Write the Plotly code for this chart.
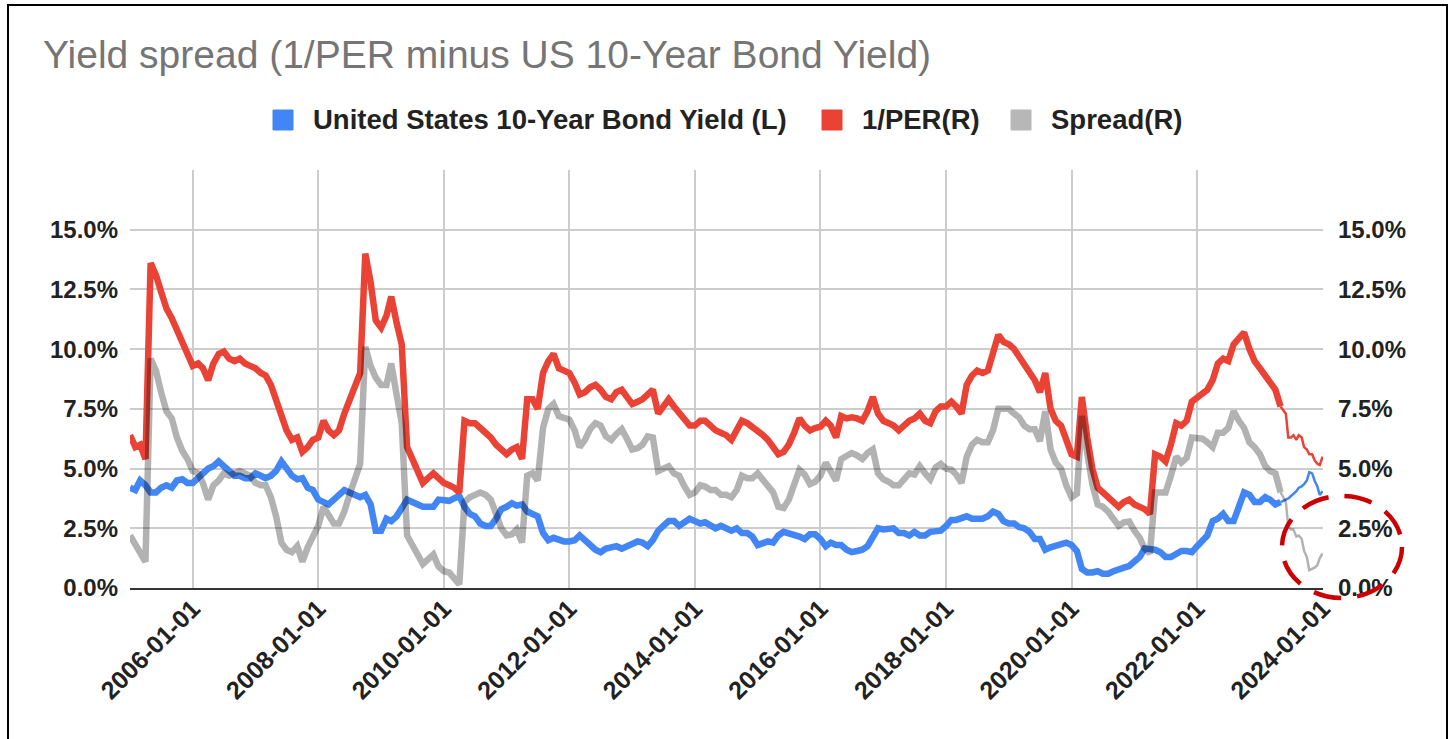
import pandas as pd
import plotly.graph_objects as go

# ---------------------------------------------------------------- data
# monthly readings (start of month), 2005-01 .. 2023-05
months = pd.date_range('2005-01-01', '2023-05-01', freq='MS')

per_monthly = [
    6.4, 5.9, 6.0, 5.4, 13.6, 13.1, 12.4, 11.7, 11.3, 10.8, 10.3, 9.8,     # 2005
    9.3, 9.4, 9.2, 8.7, 9.4, 9.8, 9.9, 9.6, 9.5, 9.6, 9.4, 9.3,            # 2006
    9.2, 9.0, 8.9, 8.5, 7.9, 7.2, 6.6, 6.2, 6.3, 5.7, 5.9, 6.2,            # 2007
    6.3, 7.0, 6.6, 6.4, 6.6, 7.3, 7.9, 8.4, 9.0, 14.0, 12.8, 11.2,         # 2008
    10.9, 11.4, 12.2, 11.1, 10.2, 5.9, 5.4, 4.8, 4.4, 4.6, 4.8, 4.6,       # 2009
    4.4, 4.3, 4.2, 4.0, 7.0, 6.9, 6.9, 6.7, 6.5, 6.3, 6.0, 5.8,            # 2010
    5.6, 5.8, 5.9, 5.4, 7.9, 7.9, 7.5, 9.0, 9.5, 9.8, 9.2, 9.1,            # 2011
    9.0, 8.6, 8.1, 8.2, 8.4, 8.5, 8.3, 8.0, 7.9, 8.2, 8.3, 8.0,            # 2012
    7.7, 7.8, 7.9, 8.1, 8.3, 7.3, 7.6, 7.9, 7.6, 7.3, 7.0, 6.8,            # 2013
    6.8, 7.0, 7.0, 6.75, 6.6, 6.5, 6.4, 6.2, 6.6, 7.0, 6.9, 6.75,          # 2014
    6.6, 6.4, 6.2, 5.9, 5.6, 5.7, 6.0, 6.5, 7.1, 6.8, 6.6, 6.7,            # 2015
    6.75, 7.0, 6.8, 6.3, 7.2, 7.1, 7.15, 7.1, 7.0, 7.4, 8.0, 7.3,          # 2016
    7.0, 6.9, 6.8, 6.6, 6.8, 7.0, 7.1, 7.3, 7.0, 6.9, 7.4, 7.6,            # 2017
    7.6, 7.8, 7.6, 7.3, 8.5, 8.9, 9.1, 9.0, 9.1, 9.8, 10.6, 10.3,          # 2018
    10.2, 10.0, 9.7, 9.3, 9.0, 8.7, 8.2, 9.0, 7.5, 7.0, 6.8, 6.2,          # 2019
    5.6, 5.5, 8.0, 6.3, 5.0, 4.2, 4.0, 3.8, 3.6, 3.4, 3.6, 3.7,            # 2020
    3.5, 3.4, 3.3, 3.1, 5.6, 5.5, 5.3, 6.0, 6.9, 6.8, 7.0, 7.8,            # 2021
    8.0, 8.2, 8.3, 8.7, 9.4, 9.6, 9.5, 10.2, 10.5, 10.7, 10.0, 9.5,        # 2022
    9.2, 8.9, 8.6, 8.3, 7.6,                                               # 2023
]

yield_monthly = [
    4.2, 4.1, 4.5, 4.3, 4.0, 4.0, 4.2, 4.3, 4.2, 4.5, 4.55, 4.4,           # 2005
    4.4, 4.6, 4.8, 5.0, 5.1, 5.3, 5.1, 4.9, 4.7, 4.7, 4.6, 4.6,            # 2006
    4.8, 4.7, 4.6, 4.7, 4.9, 5.3, 5.0, 4.7, 4.55, 4.6, 4.2, 4.1,           # 2007
    3.7, 3.6, 3.5, 3.7, 3.9, 4.1, 4.0, 3.9, 3.8, 3.9, 3.5, 2.4,            # 2008
    2.4, 2.9, 2.8, 3.0, 3.3, 3.7, 3.6, 3.5, 3.4, 3.4, 3.4, 3.7,            # 2009
    3.7, 3.65, 3.75, 3.85, 3.4, 3.1, 3.0, 2.7, 2.6, 2.6, 2.9, 3.3,         # 2010
    3.4, 3.55, 3.45, 3.5, 3.2, 3.1, 3.0, 2.3, 2.0, 2.1, 2.0, 1.95,         # 2011
    1.95, 2.0, 2.2, 2.0, 1.75, 1.6, 1.5, 1.65, 1.7, 1.75, 1.65, 1.75,      # 2012
    1.9, 1.95, 1.9, 1.75, 2.0, 2.4, 2.6, 2.8, 2.8, 2.6, 2.75, 2.9,         # 2013
    2.8, 2.7, 2.75, 2.65, 2.5, 2.6, 2.5, 2.4, 2.5, 2.3, 2.3, 2.15,         # 2014
    1.8, 1.9, 1.95, 1.9, 2.2, 2.35, 2.3, 2.2, 2.15, 2.05, 2.25, 2.25,      # 2015
    2.05, 1.75, 1.9, 1.8, 1.8, 1.6, 1.5, 1.55, 1.6, 1.75, 2.2, 2.5,        # 2016
    2.45, 2.45, 2.5, 2.3, 2.3, 2.2, 2.35, 2.2, 2.2, 2.35, 2.35, 2.4,       # 2017
    2.6, 2.85, 2.85, 2.9, 3.0, 2.9, 2.9, 2.9, 3.0, 3.2, 3.1, 2.8,          # 2018
    2.7, 2.7, 2.55, 2.5, 2.35, 2.05, 2.05, 1.6, 1.7, 1.75, 1.8, 1.9,       # 2019
    1.8, 1.55, 0.8, 0.65, 0.65, 0.7, 0.6, 0.6, 0.7, 0.8, 0.85, 0.92,       # 2020
    1.1, 1.3, 1.65, 1.65, 1.6, 1.5, 1.3, 1.3, 1.4, 1.55, 1.55, 1.5,        # 2021
    1.75, 1.95, 2.2, 2.8, 2.9, 3.1, 2.8, 2.8, 3.5, 4.0, 3.9, 3.6,          # 2022
    3.6, 3.8, 3.7, 3.5, 3.6,                                               # 2023
]

# sparse readings at the end of the series
tail_dates = ['2023-06-01', '2023-06-15', '2023-07-01', '2023-07-15', '2023-08-01',
              '2023-08-15', '2023-09-01', '2023-09-15', '2023-10-01', '2023-10-15',
              '2023-11-01', '2023-11-15', '2023-12-01', '2023-12-15', '2024-01-01']
per_tail = [7.3, 6.3, 6.3, 6.4, 6.2, 6.4, 6.3, 5.9, 5.8, 5.6, 5.6, 5.35, 5.2, 5.15, 5.5]
yield_tail = [3.7, 3.75, 3.85, 3.95, 4.05, 4.2, 4.25, 4.35, 4.5, 4.85, 4.8, 4.5, 4.25, 3.9, 4.05]

# spread = 1/PER minus bond yield
spread_monthly = [round(p - y, 2) for p, y in zip(per_monthly, yield_monthly)]
spread_tail = [round(p - y, 2) for p, y in zip(per_tail, yield_tail)]

y_ticks = [0, 2.5, 5, 7.5, 10, 12.5, 15]
y_labels = ['%.1f%%' % v for v in y_ticks]

names = ['United States 10-Year Bond Yield (L)', '1/PER(R)', 'Spread(R)']

# ---------------------------------------------------------------- style
c_blue = '#4285F4'
c_red = '#EA4335'
c_gray = 'rgba(0,0,0,0.30)'
c_gray_key = '#B7B7B7'
c_grid = '#CCCCCC'
c_text = '#222222'
font_fam = 'Arial, Liberation Sans, sans-serif'

fig = go.Figure()

tail_x = [months[-1]] + list(pd.to_datetime(tail_dates))

series = [
    (yield_monthly, yield_tail, c_blue, 'y'),
    (per_monthly, per_tail, c_red, 'y2'),
    (spread_monthly, spread_tail, c_gray, 'y2'),
]
for dense, tail, col, ax in series:
    fig.add_trace(go.Scatter(x=months, y=dense, mode='lines', yaxis=ax,
                             line=dict(color=col, width=6.5), showlegend=False,
                             hoverinfo='skip'))
    fig.add_trace(go.Scatter(x=tail_x, y=[dense[-1]] + tail, mode='lines', yaxis=ax,
                             line=dict(color=col, width=2.5), showlegend=False,
                             hoverinfo='skip'))

# ---------------------------------------------------------------- layout
W, H = 1455, 739
ml, mr, mt, mb = 130, 132, 170, 151

xfont = dict(family=font_fam, size=25, color=c_text, weight='bold')
yfont = dict(family=font_fam, size=24, color=c_text, weight='bold')

fig.update_layout(
    width=W, height=H,
    margin=dict(l=ml, r=mr, t=mt, b=mb, autoexpand=False),
    paper_bgcolor='white', plot_bgcolor='white',
    showlegend=False,
    title=dict(text='Yield spread (1/PER minus US 10-Year Bond Yield)',
               font=dict(family=font_fam, size=39, color='#757575'),
               xref='container', yref='container',
               x=43 / W, xanchor='left', y=1 - 54 / H, yanchor='middle'),
    xaxis=dict(type='date', range=['2005-01-01', '2024-01-03'], automargin=False,
               tick0='2006-01-01', dtick='M24', tickformat='%Y-%m-%d',
               tickangle=-45, ticks='', tickfont=xfont, ticklabelstandoff=-6,
               showgrid=True, gridcolor=c_grid, gridwidth=1.5,
               showline=True, linecolor='#333333', linewidth=2,
               zeroline=False),
    yaxis=dict(range=[0, 17.5], tickvals=y_ticks, ticktext=y_labels, ticks='',
               automargin=False, tickfont=yfont, ticklabelstandoff=11,
               showgrid=True, gridcolor=c_grid, gridwidth=1.5, zeroline=False),
    yaxis2=dict(range=[0, 17.5], tickvals=y_ticks, ticktext=y_labels, ticks='',
                overlaying='y', side='right', automargin=False,
                tickfont=yfont, ticklabelstandoff=14,
                showgrid=False, zeroline=False),
)

# pixel -> paper helpers for the decorations
pw = W - ml - mr
ph = H - mt - mb


def px_x(v):
    return (v - ml) / pw


def px_y(v):
    return (H - mb - v) / ph


# legend: square swatch + bold label
key_left = [273, 822, 1011]
for nm, col, kx in zip(names, [c_blue, c_red, c_gray_key], key_left):
    fig.add_shape(type='rect', xref='paper', yref='paper',
                  x0=px_x(kx), x1=px_x(kx + 20), y0=px_y(130), y1=px_y(110),
                  line=dict(color=col, width=1), fillcolor=col)
    fig.add_annotation(text=nm, xref='paper', yref='paper',
                       x=px_x(kx + 38), y=px_y(120), xanchor='left', yanchor='middle',
                       showarrow=False,
                       font=dict(family=font_fam, size=27.5, color=c_text, weight='bold'))

# outer frame of the screenshot
fig.add_shape(type='rect', xref='paper', yref='paper',
              x0=px_x(8), x1=px_x(1447), y0=px_y(760), y1=px_y(5),
              line=dict(color='black', width=2), fillcolor='rgba(0,0,0,0)', layer='above')

# red dashed highlight circle
fig.add_shape(type='circle', xref='paper', yref='paper',
              x0=px_x(1282), x1=px_x(1402), y0=px_y(598), y1=px_y(496),
              line=dict(color='#CC0000', width=4.5, dash='28px,16px'), layer='above')

# page body has a default 8px margin; drop it so the figure sits at the window origin
fig.write_html('out.html', config={'displayModeBar': False},
               post_script="document.body.style.margin='0';")
